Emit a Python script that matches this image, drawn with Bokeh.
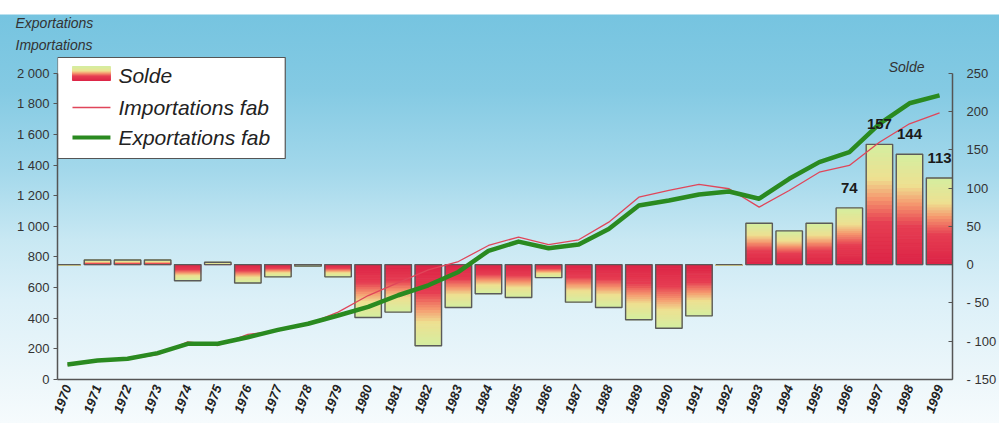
import numpy as np
from bokeh.plotting import figure
from bokeh.models import Range1d, LinearAxis, FixedTicker, ColumnDataSource, Title, InlineStyleSheet
from bokeh.core.properties import value
from bokeh.embed import file_html
from bokeh.resources import INLINE

# ---------------- data ----------------
years = [str(y) for y in range(1970, 2000)]
solde = [0, 6, 6, 6, -21, 3, -24, -16, -2, -16,
         -69, -62, -106, -56, -38, -43, -17, -49, -56, -72,
         -83, -67, 0, 54, 44, 54, 74, 157, 144, 113]
importations = [95, 118, 132, 162, 245, 222, 295, 318, 362, 440,
                548, 632, 715, 770, 875, 930, 881, 912, 1027, 1190,
                1234, 1273, 1245, 1125, 1234, 1353, 1397, 1549, 1669, 1740]
exportations = [98, 124, 135, 172, 233, 233, 276, 324, 364, 418,
                474, 550, 615, 702, 840, 900, 857, 881, 983, 1136,
                1168, 1208, 1227, 1180, 1310, 1419, 1484, 1669, 1803, 1855]
labelled_years = ["1996", "1997", "1998", "1999"]
left_ticks = [0, 200, 400, 600, 800, 1000, 1200, 1400, 1600, 1800, 2000]
left_tick_labels = ["0", "200", "400", "600", "800", "1 000", "1 200", "1 400", "1 600", "1 800", "2 000"]
right_ticks = [-150, -100, -50, 0, 50, 100, 150, 200, 250]
right_tick_labels = ["- 150", "- 100", "- 50", "0", "50", "100", "150", "200", "250"]
legend_labels = ["Solde", "Importations fab", "Exportations fab"]
axis_title_lines = ["Exportations", "Importations"]
right_axis_title = "Solde"

# ---------------- layout ----------------
W, H = 999, 423
FL, FR, FT, FB = 57, 953, 55, 379
X0, X1 = -0.33, 29.43
Y_END = (FB - FT) / 0.1532          # left-axis value at frame top
FONT = "Liberation Sans"

p = figure(width=W, height=H, output_backend="svg", toolbar_location=None, tools="",
           x_range=Range1d(X0, X1), y_range=Range1d(0, Y_END),
           min_border_left=FL, min_border_right=W - FR,
           min_border_top=FT, min_border_bottom=H - FB)
p.extra_y_ranges = {"solde": Range1d(-150, Y_END / 5 - 150)}
p.background_fill_alpha = 0
p.border_fill_alpha = 0
p.outline_line_color = None
p.xgrid.visible = False
p.ygrid.visible = False
p.stylesheets = [InlineStyleSheet(css=(
    ":host { background: linear-gradient(to bottom, #ffffff 0px, #ffffff 14px, "
    "#76c4e0 15px, #84cae3 90px, #a3d8eb 170px, #c8e8f3 240px, #dcf0f8 300px, "
    "#ebf6fa 370px, #f6fbfd 423px); }"))]

# axes
AX_COL = "#555555"
ly = p.yaxis[0]
ly.ticker = FixedTicker(ticks=left_ticks)
ly.major_label_overrides = {t: s for t, s in zip(left_ticks, left_tick_labels)}
ly.bounds = (0, 2000)
ly.minor_tick_line_color = None
ly.major_tick_out = 4
ly.major_tick_in = 0
ly.major_label_standoff = 4
ly.axis_line_color = AX_COL
ly.axis_line_width = 1.5
ly.major_tick_line_color = AX_COL
ly.major_label_text_font = FONT
ly.major_label_text_font_size = "13px"
ly.major_label_text_color = "#333333"

ry = LinearAxis(y_range_name="solde")
ry.ticker = FixedTicker(ticks=right_ticks)
ry.major_label_overrides = {t: s for t, s in zip(right_ticks, right_tick_labels)}
ry.bounds = (-150, 250)
ry.minor_tick_line_color = None
ry.major_tick_out = 0
ry.major_tick_in = 4
ry.major_label_standoff = 14
ry.axis_line_color = AX_COL
ry.axis_line_width = 1.5
ry.major_tick_line_color = AX_COL
ry.major_label_text_font = FONT
ry.major_label_text_font_size = "13px"
ry.major_label_text_color = "#333333"
p.add_layout(ry, "right")

xa = p.xaxis[0]
xa.ticker = FixedTicker(ticks=list(range(len(years))))
xa.major_label_overrides = {i: y for i, y in enumerate(years)}
xa.major_tick_out = 0
xa.major_tick_in = 0
xa.minor_tick_line_color = None
xa.major_label_orientation = 1.22
xa.major_label_standoff = 6
xa.axis_line_color = AX_COL
xa.axis_line_width = 1.5
xa.major_label_text_font = FONT
xa.major_label_text_font_size = "13px"
xa.major_label_text_font_style = "bold italic"
xa.major_label_text_color = "#222222"

# titles (left axis title, two lines): p.title sits on top, added Title sits nearer the frame
p.title.text = axis_title_lines[0]
p.title.align = "left"
p.title.offset = 15 - FL
p.title.text_font = FONT
p.title.text_font_size = "14px"
p.title.text_font_style = "italic"
p.title.text_color = "#333333"
p.title.standoff = 3
p.add_layout(Title(text=axis_title_lines[1], align="left", offset=15 - FL, text_font=FONT,
                   text_font_size="14px", text_font_style="italic", text_color="#333333",
                   standoff=5), "above")

# ---------------- gradient helper ----------------
stops = [(0.0, (220, 35, 70)), (0.35, (230, 62, 82)), (0.55, (245, 150, 110)),
         (0.72, (238, 224, 145)), (1.0, (212, 238, 160))]


def grad(t):
    for (t0, c0), (t1, c1) in zip(stops[:-1], stops[1:]):
        if t <= t1:
            f = (t - t0) / (t1 - t0)
            return "#%02x%02x%02x" % tuple(int(round(a + (b - a) * f)) for a, b in zip(c0, c1))
    return "#%02x%02x%02x" % stops[-1][1]


# ---------------- bars (Solde) ----------------
BW = 0.44
NS = 30
sl = dict(left=[], right=[], bottom=[], top=[], color=[])
for i, v in enumerate(solde):
    for j in range(NS):
        a, b = v * j / NS, v * (j + 1) / NS
        sl["left"].append(i - BW)
        sl["right"].append(i + BW)
        sl["bottom"].append(a)
        sl["top"].append(b)
        sl["color"].append(grad((j + 0.5) / NS))
p.quad(left="left", right="right", bottom="bottom", top="top", fill_color="color",
       line_color="color", line_width=1, source=ColumnDataSource(sl), y_range_name="solde")
idx = list(range(len(years)))
p.quad(left=[i - BW for i in idx], right=[i + BW for i in idx], bottom=[0] * len(idx), top=solde,
       fill_color=None, line_color="#5a5a5a", line_width=1.4, y_range_name="solde")

# lines
p.line(x=idx, y=importations, line_color="#e0465a", line_width=1.3)
p.line(x=idx, y=exportations, line_color="#2a8a20", line_width=4.5, line_join="round")

# value labels
li = [years.index(y) for y in labelled_years]
p.text(x=li, y=[solde[i] for i in li], text=[str(solde[i]) for i in li], y_range_name="solde",
       text_align="center", text_baseline="middle", y_offset=-20,
       text_font=value(FONT), text_font_size=value("15px"), text_font_style="bold", text_color="#1a1a1a")

# right axis title
p.text(x=[X1], y=[250], text=[right_axis_title], y_range_name="solde", text_align="right",
       text_baseline="middle", x_offset=-28, y_offset=-6, text_font=value(FONT),
       text_font_size=value("14px"), text_font_style="italic", text_color="#333333")


# ---------------- legend (drawn manually for gradient swatch) ----------------
def dx(px):
    return X0 + (px - FL) * (X1 - X0) / (FR - FL)


def dy(py):
    return (FB - py) * Y_END / (FB - FT)


p.quad(left=[dx(57)], right=[dx(285)], top=[dy(57)], bottom=[dy(158)], fill_color="white",
       line_color="#555555", line_width=1.2)
NL = 14
p.quad(left=[dx(72)] * NL, right=[dx(110)] * NL,
       bottom=[dy(80 - 14 * k / NL) for k in range(NL)],
       top=[dy(80 - 14 * (k + 1) / NL) for k in range(NL)],
       fill_color=[grad((k + 0.5) / NL) for k in range(NL)],
       line_color=[grad((k + 0.5) / NL) for k in range(NL)], line_width=1)
p.line(x=[dx(72), dx(110)], y=[dy(107), dy(107)], line_color="#e0465a", line_width=1.3)
p.line(x=[dx(72), dx(110)], y=[dy(137), dy(137)], line_color="#2a8a20", line_width=4)
p.text(x=[dx(118)] * 3, y=[dy(75), dy(107), dy(137)], text=legend_labels,
       text_align="left", text_baseline="middle", text_font=value(FONT),
       text_font_size=value("21px"), text_font_style="italic", text_color="#222222")

open("out.html", "w").write(file_html(p, INLINE))
